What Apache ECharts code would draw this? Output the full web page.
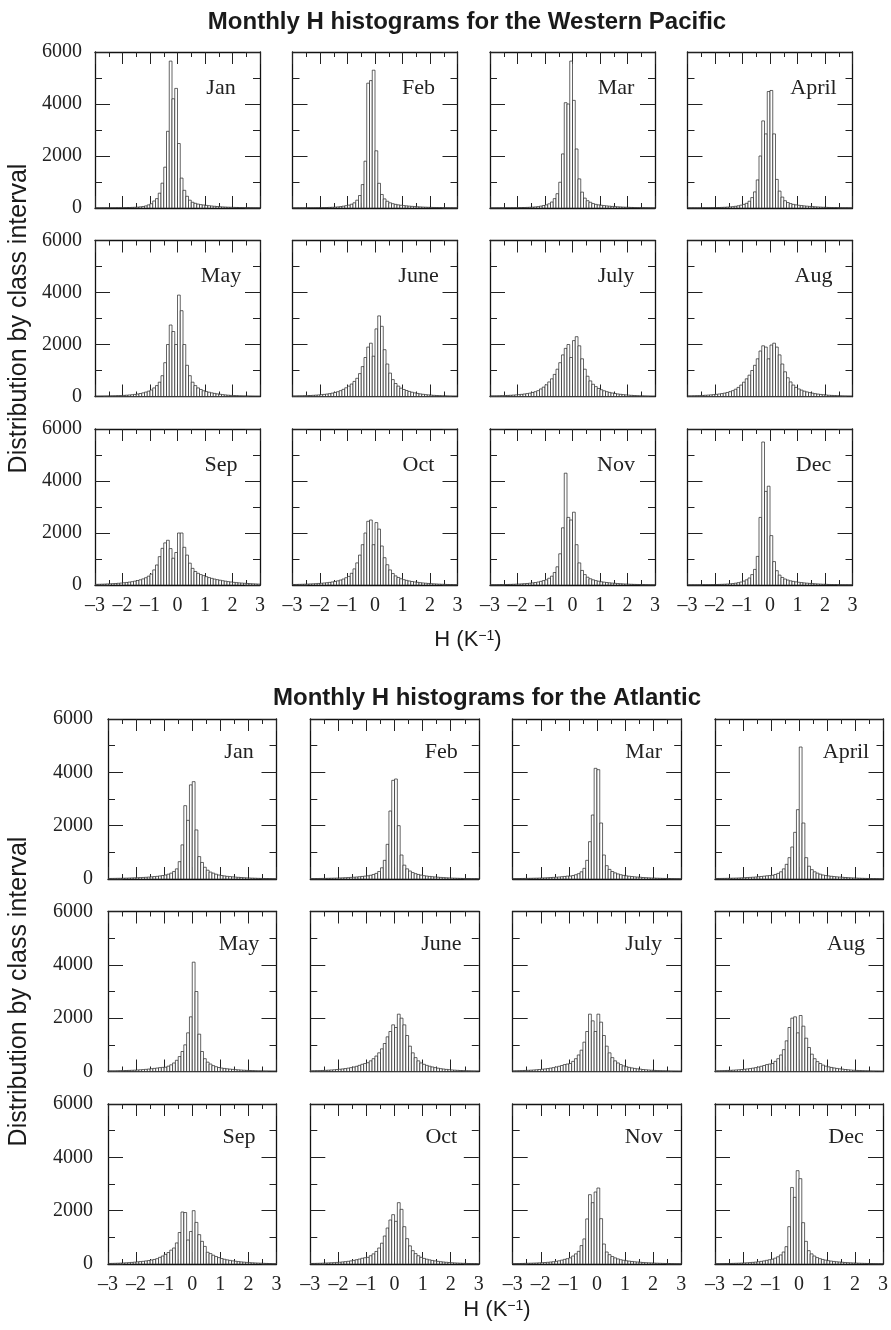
<!DOCTYPE html>
<html><head><meta charset="utf-8">
<script src="https://cdn.jsdelivr.net/npm/echarts/dist/echarts.min.js"></script>
<style>html,body{margin:0;padding:0;background:#fff}#c{width:891px;height:1330px}</style>
</head><body><div id="c"></div>
<script>
// ---- bins (class intervals of H, K^-1) ----
const binEdges = [-3,-2.9,-2.8,-2.7,-2.6,-2.5,-2.4,-2.3,-2.2,-2.1,-2,-1.9,-1.8,-1.7,-1.6,-1.5,-1.4,-1.3,-1.2,-1.1,
 -1,-0.9,-0.8,-0.7,-0.6,-0.5,-0.4,-0.3,-0.2,-0.1,0,0.1,0.2,0.3,0.4,0.5,0.6,0.7,0.8,0.9,
 1,1.1,1.2,1.3,1.4,1.5,1.6,1.7,1.8,1.9,2,2.1,2.2,2.3,2.4,2.5,2.6,2.7,2.8,2.9,3];
const xTickLabels = [-3,-2,-1,0,1,2,3];
const yTickLabels = [0,2000,4000,6000];
const months = ['Jan','Feb','Mar','April','May','June','July','Aug','Sep','Oct','Nov','Dec'];

// ---- Western Pacific ----
const wpJan = [4,4,5,5,6,7,8,9,10,12,14,16,19,23,28,34,44,58,80,120,
 165,270,360,570,955,1570,2950,5650,4200,4600,2480,1150,680,450,300,220,180,150,130,115,
 100,88,76,66,57,49,42,36,31,27,23,20,17,15,13,11,9,8,7,6];
const wpFeb = [4,4,5,5,6,7,8,9,10,12,14,16,19,23,28,34,42,54,70,90,
 110,145,200,300,480,900,1800,4800,4900,5300,2200,950,520,350,260,200,165,140,120,105,
 92,82,72,63,55,48,42,36,31,27,23,20,17,15,13,11,9,8,7,6];
const wpMar = [4,4,5,5,6,7,8,9,10,12,14,16,19,23,28,34,42,54,72,95,
 120,160,230,360,550,990,2080,4050,4000,5650,4140,2270,1120,610,380,280,220,170,140,120,
 105,92,80,70,61,53,46,40,34,29,25,21,18,15,13,11,9,8,7,6];
const wpApr = [5,5,6,6,7,8,9,10,12,14,16,19,23,28,34,42,52,66,85,110,
 140,180,260,400,620,1080,2000,3350,2850,4480,4520,2850,1100,650,420,280,210,170,140,120,
 105,92,80,70,61,53,46,40,34,29,25,21,18,15,13,11,9,8,7,6];
const wpMay = [10,12,14,16,18,21,24,28,32,37,43,50,58,68,80,95,115,140,170,205,
 250,330,420,550,800,1300,2000,2750,2500,2000,3900,3300,2000,1200,800,550,420,330,270,220,
 190,165,140,120,100,85,72,60,50,42,36,30,25,21,18,15,13,11,9,8];
const wpJun = [18,20,23,26,30,34,39,45,52,60,70,81,94,110,130,155,185,225,275,335,
 400,480,580,700,880,1150,1500,1900,2050,1550,2600,3100,2700,1800,1250,900,650,500,400,320,
 270,230,195,165,140,118,100,85,72,61,52,44,37,31,26,22,18,15,12,10];
const wpJul = [20,22,25,28,32,36,41,47,54,62,72,83,96,112,130,155,185,225,290,360,
 450,560,680,850,1050,1300,1600,1850,2000,1500,2150,2300,1950,1450,1050,780,600,470,380,310,
 260,220,185,158,135,115,98,84,72,61,52,44,37,31,26,22,18,15,12,10];
const wpAug = [22,25,28,32,36,41,47,54,62,72,83,96,112,130,155,185,225,280,350,440,
 550,680,820,1000,1200,1450,1750,1950,1900,1450,1980,2050,1900,1600,1250,950,720,560,440,350,
 290,245,205,175,150,128,109,93,79,67,57,48,41,35,29,24,20,17,14,12];
const wpSep = [25,28,32,36,41,46,52,58,66,75,86,98,112,128,148,172,200,235,280,340,
 420,580,770,1090,1410,1620,1720,1400,1030,1250,2000,2000,1450,1150,840,640,520,450,400,360,
 320,285,255,228,205,185,165,147,130,115,102,91,81,73,65,58,52,46,41,36];
const wpOct = [20,22,25,28,32,36,41,46,52,59,67,77,88,101,117,136,160,190,230,280,
 330,450,620,850,1150,1550,2000,2450,2500,1550,2400,2150,1500,1050,780,580,440,350,290,240,
 205,178,155,135,118,103,90,78,68,59,51,44,38,33,28,24,20,17,14,12];
const wpNov = [10,11,12,14,16,18,21,24,28,32,37,43,50,58,68,80,95,115,140,170,
 200,260,340,480,700,1200,2200,4300,2600,2500,2800,1550,850,560,400,300,240,200,170,145,
 125,110,96,84,73,64,56,49,43,37,32,28,24,21,18,15,13,11,9,8];
const wpDec = [5,5,6,7,8,9,10,12,14,16,19,22,26,31,37,45,55,70,90,115,
 150,200,270,400,600,1100,2600,5500,3600,3800,1900,900,550,380,290,230,190,160,140,120,
 105,92,80,70,61,53,46,40,34,29,25,21,18,15,13,11,9,8,7,6];

// ---- Atlantic ----
const atJan = [20,22,24,26,28,30,33,36,40,44,48,53,58,64,72,80,90,100,115,130,
 150,180,220,280,380,650,1280,2750,2200,3530,3650,1840,840,620,440,330,260,220,180,150,
 130,115,100,90,80,70,62,55,48,42,37,33,29,25,22,19,17,15,13,11];
const atFeb = [15,16,18,20,22,24,26,29,32,35,39,43,48,54,60,67,75,85,96,108,
 120,140,170,210,280,420,700,1300,2550,3700,3750,2000,900,520,380,300,240,200,170,145,
 125,110,97,86,76,67,59,52,46,40,35,31,27,24,21,18,16,14,12,10];
const atMar = [15,16,18,20,22,24,26,29,32,35,39,43,48,54,60,67,75,85,96,108,
 110,130,160,200,270,400,700,1400,2400,4150,4100,2100,900,500,360,280,230,190,160,135,
 118,104,92,81,72,64,56,50,44,38,34,30,26,23,20,17,15,13,11,9];
const atApr = [18,20,22,24,26,29,32,35,39,43,48,54,60,67,75,84,95,107,120,130,
 140,170,210,270,380,550,800,1200,1750,2600,4950,2100,800,480,350,270,220,180,150,130,
 115,102,90,80,71,63,56,50,44,39,34,30,26,23,20,17,15,13,11,9];
const atMay = [20,22,24,27,30,33,37,41,46,51,57,64,72,81,92,104,117,130,145,155,
 160,200,250,320,420,560,750,1000,1450,2050,4100,3000,1400,750,480,350,280,220,180,150,
 130,115,101,89,79,70,62,55,48,42,37,32,28,24,21,18,16,14,12,10];
const atJun = [25,28,31,35,39,44,50,57,65,74,84,96,110,126,145,168,195,230,270,300,
 330,400,480,580,700,850,1050,1300,1500,1750,1650,2150,2000,1750,1350,950,700,520,400,320,
 270,230,198,170,146,125,107,92,79,68,58,50,43,37,32,27,23,20,17,14];
const atJul = [25,28,31,35,39,44,50,57,65,74,84,96,110,126,145,168,195,225,260,280,
 300,380,480,620,800,1100,1500,2150,1900,1500,2150,1850,1350,950,700,520,400,320,260,210,
 180,155,134,116,100,87,75,65,56,48,41,35,30,26,22,19,16,14,12,10];
const atAug = [25,28,31,35,39,44,50,57,65,74,84,96,110,126,145,168,195,225,260,280,
 300,380,480,620,820,1150,1650,2000,2050,1450,2100,1700,1250,900,650,480,370,300,240,200,
 175,152,132,115,100,87,75,65,56,48,41,35,30,26,22,19,16,14,12,10];
const atSep = [20,23,26,30,34,39,45,52,60,70,80,90,100,115,130,150,170,200,250,300,
 360,430,520,600,790,1180,1950,1930,900,1220,2000,1560,1100,850,660,440,390,330,280,240,
 205,178,155,135,118,103,90,79,69,60,52,45,39,34,29,25,21,18,15,12];
const atOct = [20,22,25,28,32,36,41,46,52,59,67,77,88,101,117,136,160,185,215,235,
 250,310,380,470,600,780,1050,1350,1650,1850,1600,2300,2050,1400,950,680,500,390,310,250,
 210,180,155,134,116,100,87,75,65,56,48,41,35,30,26,22,19,16,13,11];
const atNov = [15,17,19,21,24,27,30,34,38,43,49,56,64,74,86,100,120,145,175,200,
 230,300,380,475,690,940,1690,2600,2300,2700,2850,1700,750,450,350,280,230,190,160,140,
 122,108,95,84,74,65,57,50,44,39,34,30,26,23,20,17,15,13,11,9];
const atDec = [12,13,15,17,19,21,24,27,31,35,40,46,53,61,71,83,98,116,138,160,
 180,220,270,340,450,650,1400,2870,2500,3500,3200,1550,850,500,380,300,240,200,170,145,
 126,110,96,84,74,65,57,50,44,39,34,30,26,23,20,17,15,13,11,9];

const SERIF = "'Liberation Serif','Times New Roman',serif";
const SANS = "'Liberation Sans',Arial,sans-serif";

const regions = [
  { title: 'Monthly H histograms for the Western Pacific',
    data: [wpJan,wpFeb,wpMar,wpApr,wpMay,wpJun,wpJul,wpAug,wpSep,wpOct,wpNov,wpDec],
    lefts: [95,292.5,490,687.5], w: 165, tops: [52,240.5,429], h: 156,
    monthDx: 126, monthDy: 36, titleX: 467, titleY: 22, nameX: 468, nameY: 640,
    yNameX: 19, yMargin: 13 },
  { title: 'Monthly H histograms for the Atlantic',
    data: [atJan,atFeb,atMar,atApr,atMay,atJun,atJul,atAug,atSep,atOct,atNov,atDec],
    lefts: [108,310.3,512.7,715], w: 168.5, tops: [719,911.5,1104], h: 160,
    monthDx: 131, monthDy: 33, titleX: 487, titleY: 698, nameX: 497, nameY: 1310,
    yNameX: 19, yMargin: 15 }
];

const grid = [], xAxis = [], yAxis = [], series = [], graphic = [];
const lineCol = '#111';
function renderBin(params, api) {
  const a = api.coord([api.value(0), api.value(2)]);
  const b = api.coord([api.value(1), 0]);
  return { type: 'rect', shape: { x: a[0], y: a[1], width: b[0] - a[0], height: b[1] - a[1] },
    style: { fill: '#fff', stroke: '#222', lineWidth: 0.7 } };
}
const negFmt = v => (v < 0 ? '\u2013' + Math.abs(v) : String(v));
const plainFmt = v => String(v);

regions.forEach((R, r) => {
  for (let i = 0; i < 3; i++) for (let j = 0; j < 4; j++) {
    const m = i * 4 + j, k = r * 12 + m;
    grid.push({ left: R.lefts[j], top: R.tops[i], width: R.w, height: R.h, containLabel: false });
    const xBase = { type: 'value', gridIndex: k, min: xTickLabels[0], max: xTickLabels[xTickLabels.length - 1], interval: 1,
      axisLine: { show: true, onZero: false, lineStyle: { color: lineCol, width: 1.3 } },
      axisTick: { show: true, inside: true, length: 12, lineStyle: { color: '#222', width: 1 } },
      minorTick: { show: true, splitNumber: 2, length: 5, lineStyle: { color: '#222', width: 1 } },
      splitLine: { show: false } };
    xAxis.push(Object.assign({}, xBase, { position: 'bottom',
      axisLabel: { show: i === 2, margin: 11, formatter: negFmt, fontFamily: SERIF, fontSize: 20, color: '#222' } }));
    xAxis.push(Object.assign({}, xBase, { position: 'top', axisLabel: { show: false } }));
    const yBase = { type: 'value', gridIndex: k, min: yTickLabels[0], max: yTickLabels[yTickLabels.length - 1], interval: 2000,
      axisLine: { show: true, onZero: false, lineStyle: { color: lineCol, width: 1.3 } },
      axisTick: { show: true, inside: true, length: 15, lineStyle: { color: '#222', width: 1 } },
      minorTick: { show: true, splitNumber: 2, length: 7, lineStyle: { color: '#222', width: 1 } },
      splitLine: { show: false } };
    yAxis.push(Object.assign({}, yBase, { position: 'left',
      axisLabel: { show: j === 0, margin: R.yMargin, formatter: plainFmt, fontFamily: SERIF, fontSize: 20, color: '#222',
        showMinLabel: true, showMaxLabel: true } }));
    yAxis.push(Object.assign({}, yBase, { position: 'right', axisLabel: { show: false } }));
    const vals = R.data[m];
    series.push({ type: 'custom', name: months[m], xAxisIndex: 2 * k, yAxisIndex: 2 * k,
      renderItem: renderBin, clip: true, silent: true, encode: { x: [0, 1], y: 2 },
      data: vals.map((v, b) => [binEdges[b], binEdges[b + 1], v]) });
    graphic.push({ type: 'text', x: R.lefts[j] + R.monthDx, y: R.tops[i] + R.monthDy, z: 100,
      style: { text: months[m], font: '22px ' + SERIF, fill: '#222', textAlign: 'center', textVerticalAlign: 'middle' } });
  }
  graphic.push({ type: 'text', x: R.titleX, y: R.titleY,
    style: { text: R.title, font: 'bold 24px ' + SANS, fill: '#1a1a1a', textAlign: 'center', textVerticalAlign: 'middle' } });
  graphic.push({ type: 'text', x: R.yNameX, y: (R.tops[0] + R.tops[2] + R.h) / 2, rotation: Math.PI / 2,
    style: { text: 'Distribution by class interval', font: '25px ' + SANS, fill: '#1a1a1a', textAlign: 'center', textVerticalAlign: 'middle' } });
  graphic.push({ type: 'text', x: R.nameX, y: R.nameY,
    style: { text: '{n|H (K}{s|\u22121}{n|)}', textAlign: 'center', textVerticalAlign: 'middle',
      rich: { n: { fontFamily: SANS, fontSize: 22, fill: '#1a1a1a', color: '#1a1a1a' },
              s: { fontFamily: SANS, fontSize: 14, verticalAlign: 'top', fill: '#1a1a1a', color: '#1a1a1a' } } } });
});

const chart = echarts.init(document.getElementById('c'), null, { renderer: 'canvas' });
chart.setOption({ animation: false, backgroundColor: '#fff', grid, xAxis, yAxis, series, graphic });
</script></body></html>
